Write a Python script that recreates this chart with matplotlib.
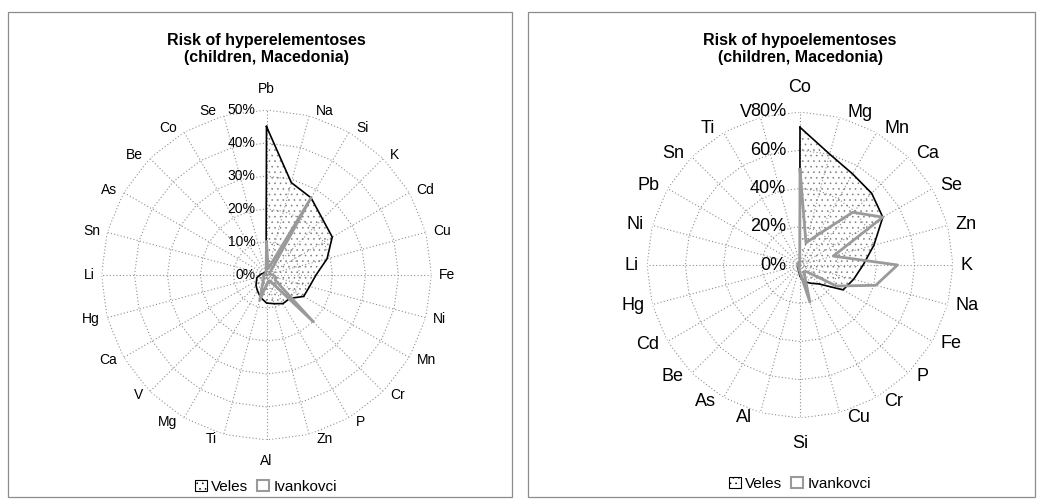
import numpy as np
import matplotlib
matplotlib.use('Agg')
import matplotlib.pyplot as plt
from matplotlib.patches import Patch, Rectangle

plt.rcParams['font.family'] = ['Liberation Sans', 'DejaVu Sans']
plt.rcParams['hatch.linewidth'] = 0.4

# ---------------- data ----------------
hyper_elements = ['Pb', 'Na', 'Si', 'K', 'Cd', 'Cu', 'Fe', 'Ni', 'Mn', 'Cr', 'P', 'Zn',
                  'Al', 'Ti', 'Mg', 'V', 'Ca', 'Hg', 'Li', 'Sn', 'As', 'Be', 'Co', 'Se']
hyper_veles = [45, 29, 27, 24, 23, 19, 15, 13.5, 13, 10, 10, 9,
               8.5, 7, 5.5, 4.5, 3.5, 3, 2, 1.5, 1, 1, 0.5, 0.5]
hyper_ivankovci = [10, 2, 27, 2, 1, 1, 2, 3, 3, 20, 2, 2,
                   3, 8, 2, 1, 1, 1, 1, 0.5, 0.5, 0.5, 0.5, 0.5]
hyper_ticks = [0, 10, 20, 30, 40, 50]

hypo_elements = ['Co', 'Mg', 'Mn', 'Ca', 'Se', 'Zn', 'K', 'Na', 'Fe', 'P', 'Cr', 'Cu',
                 'Si', 'Al', 'As', 'Be', 'Cd', 'Hg', 'Li', 'Ni', 'Pb', 'Sn', 'Ti', 'V']
hypo_veles = [72, 60, 55, 53, 50, 40, 33, 29, 26, 14, 11, 9,
              6, 3, 2, 1, 1, 1, 1, 1, 1, 1, 1, 0.5]
hypo_ivankovci = [50, 12, 18, 39, 50, 18, 51, 41, 22, 5, 4, 20,
                  4, 2, 1, 1, 1, 1, 1, 1, 1, 1, 1, 0.5]
hypo_ticks = [0, 20, 40, 60, 80]

series_names = ['Veles', 'Ivankovci']

W, H = 1040, 500
PT = 0.72  # points per pixel at 100 dpi
fig = plt.figure(figsize=(W / 100, H / 100), dpi=100)


def px_rect(cx, cy, r):
    return [(cx - r) / W, 1 - (cy + r) / H, 2 * r / W, 2 * r / H]


def panel(center, radius, box, title, title_y, cats, veles, ivank, ticks, fs,
          side_gap, end_off, pct_gap, legend_xy):
    x0, y0, x1, y1 = box
    fig.patches.append(Rectangle((x0 / W, 1 - y1 / H), (x1 - x0) / W, (y1 - y0) / H,
                                 transform=fig.transFigure, fill=False,
                                 edgecolor='#8c8c8c', lw=0.9))
    fig.text(center[0] / W, 1 - title_y / H, title, ha='center', va='center',
             fontsize=11.5, fontweight='bold', linespacing=1.2)

    ax = fig.add_axes(px_rect(center[0], center[1], radius), projection='polar')
    ax.set_theta_zero_location('N')
    ax.set_theta_direction(-1)
    rmax = ticks[-1]
    ax.set_ylim(0, rmax)
    ax.set_axis_off()
    n = len(cats)
    theta = np.arange(n) * 2 * np.pi / n
    tc = np.append(theta, theta[0])
    grid_kw = dict(color='#8f8f8f', lw=0.8, ls=(0, (1, 2)), zorder=1)
    for t in ticks[1:]:
        ax.plot(tc, np.full(n + 1, t), **grid_kw)
    for th in theta:
        ax.plot([th, th], [0, rmax], **grid_kw)

    v = np.append(veles, veles[0])
    iv = np.append(ivank, ivank[0])
    ax.fill(tc, v, facecolor='none', edgecolor='#7a7a7a', hatch='...', lw=0, zorder=2)
    ax.plot(tc, v, color='black', lw=1.2, zorder=3)
    ax.plot(tc, iv, color='#9a9a9a', lw=2.0, zorder=4)

    for th, c in zip(theta, cats):
        s, co = np.sin(th), np.cos(th)
        if abs(s) < 0.05:
            ha, off = 'center', (0, np.sign(co) * end_off)
        else:
            ha = 'left' if s > 0 else 'right'
            off = (np.sign(s) * side_gap, co * 5)
        ax.annotate(c, xy=(th, rmax), xytext=(off[0] * PT, off[1] * PT),
                    textcoords='offset points', ha=ha, va='center', fontsize=fs)
    for t in ticks:
        ax.annotate(f'{t}%', xy=(0, t), xytext=(-pct_gap * PT, 0), textcoords='offset points',
                    ha='right', va='center', fontsize=fs)

    handles = [Patch(facecolor='white', edgecolor='black', hatch='...', lw=0.8),
               Patch(facecolor='white', edgecolor='#9a9a9a', lw=1.5)]
    fig.legend(handles, series_names, loc='center',
               bbox_to_anchor=(legend_xy[0] / W, 1 - legend_xy[1] / H),
               ncol=2, frameon=False, fontsize=11, handlelength=0.75, handleheight=0.75,
               handletextpad=0.3, columnspacing=0.6, borderaxespad=0)


panel((266.5, 275), 165, (8, 12, 512, 497),
      'Risk of hyperelementoses\n(children, Macedonia)', 49,
      hyper_elements, hyper_veles, hyper_ivankovci, hyper_ticks, 10, 7, 21, 11, (266, 487))
panel((800, 265), 153, (528, 12, 1035, 497),
      'Risk of hypoelementoses\n(children, Macedonia)', 49,
      hypo_elements, hypo_veles, hypo_ivankovci, hypo_ticks, 13, 8, 25, 14, (800, 484))

fig.savefig('out.png', dpi=100, facecolor='white')
